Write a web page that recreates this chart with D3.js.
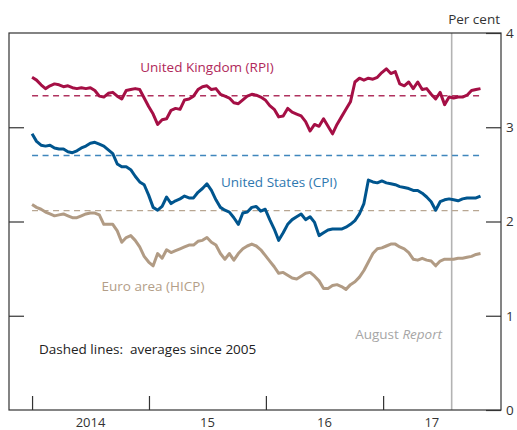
<!DOCTYPE html>
<html>
<head>
<meta charset="utf-8">
<script src="https://cdnjs.cloudflare.com/ajax/libs/d3/7.8.5/d3.min.js"></script>
<style>
  body { margin: 0; background: #fff; }
  text { font-family: "Open Sans", "Noto Sans", sans-serif; }
</style>
</head>
<body>
<div id="chart"></div>
<script>
// fortnightly readings, first one on 1 Jan 2014
var startDate = new Date(2014, 0, 1);
var stepDays = 14;

var ukRPI = [3.53, 3.50, 3.45, 3.41, 3.44, 3.46, 3.45, 3.43, 3.44, 3.42,
  3.41, 3.42, 3.41, 3.42, 3.39, 3.33, 3.32, 3.36, 3.37, 3.33,
  3.30, 3.39, 3.40, 3.41, 3.40, 3.31, 3.22, 3.14, 3.03, 3.08,
  3.09, 3.18, 3.20, 3.19, 3.29, 3.30, 3.33, 3.40, 3.43, 3.44,
  3.40, 3.41, 3.35, 3.33, 3.31, 3.26, 3.25, 3.29, 3.33, 3.35,
  3.34, 3.32, 3.29, 3.23, 3.19, 3.11, 3.12, 3.20, 3.16, 3.14,
  3.12, 3.06, 2.96, 3.03, 3.01, 3.09, 3.01, 2.93, 3.03, 3.11,
  3.19, 3.27, 3.48, 3.52, 3.50, 3.52, 3.51, 3.53, 3.58, 3.62,
  3.57, 3.59, 3.46, 3.44, 3.48, 3.41, 3.48, 3.40, 3.41, 3.35,
  3.30, 3.37, 3.24, 3.32, 3.31, 3.32, 3.32, 3.34, 3.39, 3.40, 3.41];

var usCPI = [2.93, 2.85, 2.81, 2.80, 2.81, 2.78, 2.77, 2.77, 2.74, 2.73,
  2.75, 2.78, 2.80, 2.83, 2.84, 2.82, 2.80, 2.76, 2.72, 2.61,
  2.58, 2.58, 2.55, 2.48, 2.42, 2.39, 2.28, 2.15, 2.12, 2.16,
  2.26, 2.19, 2.22, 2.24, 2.27, 2.25, 2.25, 2.31, 2.35, 2.40,
  2.33, 2.23, 2.15, 2.12, 2.10, 2.04, 1.97, 2.09, 2.10, 2.15,
  2.16, 2.11, 2.13, 2.02, 1.92, 1.80, 1.88, 1.97, 2.02, 2.05,
  2.08, 2.02, 2.05, 1.99, 1.85, 1.88, 1.91, 1.92, 1.92, 1.92,
  1.94, 1.97, 2.01, 2.08, 2.19, 2.44, 2.42, 2.41, 2.43, 2.41,
  2.40, 2.39, 2.37, 2.36, 2.35, 2.33, 2.33, 2.30, 2.26, 2.21,
  2.12, 2.21, 2.23, 2.24, 2.23, 2.22, 2.24, 2.25, 2.25, 2.25, 2.27];

var euroHICP = [2.18, 2.15, 2.13, 2.10, 2.08, 2.06, 2.07, 2.08, 2.06, 2.04,
  2.04, 2.06, 2.08, 2.09, 2.09, 2.07, 1.97, 1.97, 1.97, 1.90,
  1.78, 1.83, 1.85, 1.80, 1.73, 1.63, 1.57, 1.53, 1.66, 1.61,
  1.70, 1.67, 1.69, 1.71, 1.73, 1.75, 1.75, 1.79, 1.80, 1.83,
  1.78, 1.75, 1.66, 1.60, 1.66, 1.59, 1.66, 1.71, 1.74, 1.76,
  1.74, 1.70, 1.64, 1.58, 1.52, 1.45, 1.46, 1.43, 1.40, 1.39,
  1.42, 1.45, 1.46, 1.42, 1.37, 1.29, 1.29, 1.32, 1.33, 1.31,
  1.28, 1.33, 1.36, 1.41, 1.48, 1.57, 1.66, 1.71, 1.72, 1.74,
  1.76, 1.76, 1.73, 1.71, 1.67, 1.60, 1.59, 1.61, 1.59, 1.58,
  1.53, 1.58, 1.60, 1.60, 1.60, 1.61, 1.61, 1.62, 1.63, 1.65, 1.66];

// averages since 2005 (dashed)
var averages = [3.335, 2.70, 2.115];
var yTicks = [0, 1, 2, 3, 4];
var years = [2014, 2015, 2016, 2017];
var yearLabels = ['2014', '15', '16', '17'];
var reportDate = new Date(2017, 7, 3);

var series = [
  {name: 'United Kingdom (RPI)', values: ukRPI, avg: averages[0], color: '#a50f45', dash: '#b0325f', label: '#b0285a', lx: 207, ly: 72},
  {name: 'United States (CPI)', values: usCPI, avg: averages[1], color: '#00558e', dash: '#3f86bd', label: '#2f78b0', lx: 279, ly: 187},
  {name: 'Euro area (HICP)', values: euroHICP, avg: averages[2], color: '#b19b84', dash: '#b8a692', label: '#b39e88', lx: 153, ly: 291}
];

var dates = ukRPI.map(function(d, i) {
  return d3.timeDay.offset(startDate, i * stepDays);
});
var lastDate = dates[dates.length - 1];

var width = 517, height = 430;
var plotL = 9, plotR = 501, plotT = 33, plotB = 410;
var fontSize = 13.5;

var svg = d3.select('#chart').append('svg')
  .attr('width', width)
  .attr('height', height);

var x = d3.scaleTime()
  .domain([new Date(2013, 9, 21), new Date(2018, 0, 4)])
  .range([plotL, plotR]);
var y = d3.scaleLinear()
  .domain([0, 4])
  .range([plotB, plotT]);

// August Report marker
svg.append('line')
  .attr('x1', x(reportDate)).attr('x2', x(reportDate))
  .attr('y1', plotT).attr('y2', plotB)
  .attr('stroke', '#b3b3b3')
  .attr('stroke-width', 1.6);

// dashed averages
series.forEach(function(s) {
  svg.append('line')
    .attr('x1', x(dates[0])).attr('x2', x(lastDate))
    .attr('y1', y(s.avg)).attr('y2', y(s.avg))
    .attr('stroke', s.dash)
    .attr('stroke-width', 1.4)
    .attr('stroke-dasharray', '6,4.5');
});

var line = d3.line()
  .x(function(d, i) { return x(dates[i]); })
  .y(function(d) { return y(d); });

series.forEach(function(s) {
  svg.append('path')
    .datum(s.values)
    .attr('d', line)
    .attr('fill', 'none')
    .attr('stroke', s.color)
    .attr('stroke-width', 3)
    .attr('stroke-linejoin', 'round');

  svg.append('text')
    .attr('x', s.lx).attr('y', s.ly)
    .attr('text-anchor', 'middle')
    .attr('font-size', fontSize)
    .attr('fill', s.label)
    .text(s.name);
});

// frame
svg.append('rect')
  .attr('x', plotL).attr('y', plotT)
  .attr('width', plotR - plotL).attr('height', plotB - plotT)
  .attr('fill', 'none')
  .attr('stroke', '#333')
  .attr('stroke-width', 1.2);

// right axis, ticks pointing in
var yAxis = svg.append('g')
  .attr('transform', 'translate(' + plotR + ',0)')
  .call(d3.axisRight(y).tickValues(yTicks).tickSize(-15).tickPadding(5).tickFormat(d3.format('d')));
yAxis.select('.domain').remove();
yAxis.selectAll('line').attr('stroke', '#333').attr('stroke-width', 1.2);
yAxis.selectAll('text')
  .attr('font-size', fontSize)
  .attr('fill', '#333')
  .attr('font-family', '"Open Sans", "Noto Sans", sans-serif');

// same ticks on the left side
var yAxisL = svg.append('g')
  .attr('transform', 'translate(' + plotL + ',0)')
  .call(d3.axisLeft(y).tickValues(yTicks.slice(1, 4)).tickSize(-15).tickFormat(''));
yAxisL.select('.domain').remove();
yAxisL.selectAll('line').attr('stroke', '#333').attr('stroke-width', 1.2);

// bottom axis: year ticks, labels centred on each year
var xAxis = svg.append('g')
  .attr('transform', 'translate(0,' + plotB + ')')
  .call(d3.axisBottom(x).tickValues(years.map(function(yr) { return new Date(yr, 0, 1); }))
    .tickSize(-14).tickFormat(''));
xAxis.select('.domain').remove();
xAxis.selectAll('line').attr('stroke', '#333').attr('stroke-width', 1.2);

svg.selectAll('.year')
  .data(years)
  .enter().append('text')
  .attr('class', 'year')
  .attr('x', function(yr, i) {
    var a = new Date(yr, 0, 1);
    var b = new Date(yr + 1, 0, 1);
    if (b > lastDate) b = lastDate;
    return (x(a) + x(b)) / 2;
  })
  .attr('y', 427)
  .attr('text-anchor', 'middle')
  .attr('font-size', 13)
  .attr('fill', '#333')
  .text(function(yr, i) { return yearLabels[i]; });

svg.append('text')
  .attr('x', 500).attr('y', 24)
  .attr('text-anchor', 'end')
  .attr('font-size', fontSize)
  .attr('fill', '#333')
  .text('Per cent');

svg.append('text')
  .attr('x', 39).attr('y', 354)
  .attr('font-size', fontSize)
  .attr('fill', '#222')
  .text('Dashed lines:\u00a0 averages since 2005');

var aug = svg.append('text')
  .attr('x', 442).attr('y', 339)
  .attr('text-anchor', 'end')
  .attr('font-size', fontSize)
  .attr('fill', '#a6a6a6');
aug.append('tspan').text('August ');
aug.append('tspan').attr('font-style', 'italic').text('Report');
</script>
</body>
</html>
